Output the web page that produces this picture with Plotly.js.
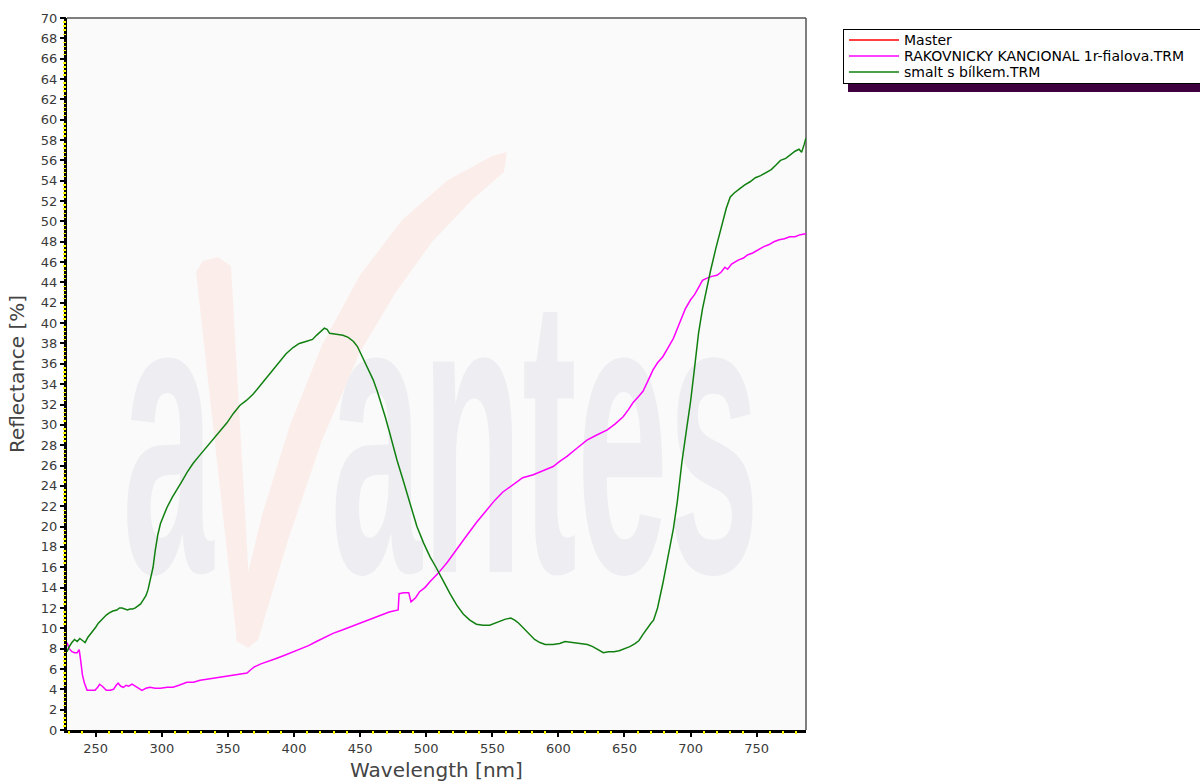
<!DOCTYPE html>
<html>
<head>
<meta charset="utf-8">
<script src="https://cdn.plot.ly/plotly-3.0.1.min.js"></script>
<style>html,body{margin:0;padding:0;background:#fff;}#chart{width:1200px;height:784px;}</style>
</head>
<body>
<div id="chart"></div>
<script>
// ---------------- data ----------------
const seriesNames = ['Master', 'RAKOVNICKY KANCIONAL 1r-fialova.TRM', 'smalt s bílkem.TRM'];

// the Master reference has no visible samples in the chart
const masterWavelength = [null];
const masterReflectance = [null];

const rakWavelength = [228.3,230,232,234,236,237.5,238.5,240,241.5,243.5,246,249.5,251.5,253,255,258,261,263.5,265.5,267,269,271,273,275,277.5,280,283,285,288,291,295,299,304,308.5,313,319,324,329,334,339,344,349,354,359,364.5,367,370,375,380,386,392,398,404.5,411,417,423,429.5,436,442,449,455,461,467,472,478.8,479.5,483,486.8,488.5,492,495,499,503,509,516,523,530,538,546,552,558,565.7,573,581,589,596,601,606.5,614,621.6,629,637,643,649,653,656.5,660,664,668,671.6,675,679,683,687,691,696,700,703,706,709,712,716,720,723,726,728,731,736,740,743,747,751,755,759,763,767,771,775,779,783,787.3];
const rakReflectance = [8.6,8.0,7.7,7.6,7.6,7.9,7.0,5.4,4.6,3.9,3.9,3.9,4.2,4.5,4.3,3.9,3.9,4.0,4.4,4.6,4.3,4.2,4.4,4.3,4.5,4.3,4.1,3.9,4.1,4.2,4.1,4.1,4.2,4.2,4.4,4.7,4.7,4.9,5.0,5.1,5.2,5.3,5.4,5.5,5.6,5.9,6.2,6.5,6.7,7.0,7.3,7.6,7.9,8.3,8.7,9.1,9.5,9.8,10.1,10.4,10.7,11.0,11.3,11.6,11.8,13.4,13.5,13.5,12.6,13.0,13.6,14.0,14.6,15.4,16.5,17.7,19.0,20.4,21.7,22.6,23.4,24.1,24.8,25.1,25.5,25.9,26.4,26.9,27.7,28.5,29.0,29.5,30.1,30.8,31.5,32.2,32.7,33.3,34.4,35.4,36.1,36.7,37.6,38.5,39.8,41.4,42.3,42.8,43.5,44.2,44.4,44.6,44.7,45.0,45.5,45.3,45.8,46.2,46.4,46.7,46.9,47.2,47.5,47.7,48.0,48.2,48.3,48.5,48.5,48.7,48.8];

const smaltWavelength = [228.3,230,232,234,236,238,240,242,244,246,248,250,252,254,256,258,260,263,266,268,270,272,274,276,278,280,282,284,286,288,289.6,291.5,293.4,295,297,299,301,304,308,311.5,315,319,323.6,328,332,336.5,341,345,349.3,354,359,364,369,374,379.6,385,389.4,394,399.3,404,409,414,417,420,423,425,427,432,437,441,445,448,451,454,457,460,463,466,469,472,475,478,482,485.5,489,493,498,503,507,510.5,514,518,523,528,533,538,543,548,552,556,560,564,567,570,573,576,579,582,586,590,596,601,605,610,616,622,626,630,634,638,642,646,650,654,658,661,664,667,670,672,675,679,683,687,690,693.5,697,700,703,706,709,712,715,719,724,727,730,733,737,741,745,749,753,757,761,765,768,772,776,779,782,784,786,787.3];
const smaltReflectance = [7.7,8.2,8.6,8.9,8.7,9.0,8.8,8.6,9.1,9.4,9.8,10.1,10.5,10.8,11.0,11.3,11.5,11.7,11.8,12.0,12.0,11.9,11.8,11.9,11.9,12.0,12.2,12.4,12.8,13.2,13.8,14.8,16.0,17.6,19.2,20.3,21.0,21.9,22.9,23.6,24.4,25.3,26.2,26.9,27.5,28.2,28.9,29.5,30.2,31.1,31.9,32.4,33.0,33.8,34.7,35.6,36.3,37.0,37.6,38.0,38.2,38.4,38.8,39.2,39.5,39.4,39.0,38.9,38.8,38.6,38.2,37.7,36.9,36.0,35.2,34.4,33.3,32.1,30.8,29.4,27.9,26.5,24.8,23.3,21.7,20.0,18.4,17.0,16.1,15.3,14.4,13.4,12.3,11.4,10.8,10.4,10.3,10.3,10.5,10.7,10.9,11.0,10.8,10.5,10.1,9.6,9.2,8.9,8.6,8.4,8.4,8.5,8.7,8.6,8.5,8.4,8.2,7.9,7.6,7.7,7.7,7.8,8.0,8.2,8.5,8.8,9.4,10.0,10.5,10.8,12.0,14.4,17.0,19.8,22.5,26.4,29.6,32.3,35.6,39.0,41.4,43.3,45.1,47.3,49.8,51.3,52.4,52.8,53.2,53.6,53.9,54.3,54.5,54.8,55.1,55.6,56.0,56.2,56.6,56.9,57.1,56.8,57.6,58.2];

const xRange = [228.3, 787.3];
const yRange = [0, 70];
const watermarkParts = ['a', 'antes'];

// ---------------- layout helpers ----------------
const W = 1200, H = 784;
const M = {l: 67, r: 394, t: 18, b: 54};
const PW = W - M.l - M.r, PH = H - M.t - M.b;
const px = x => (x - M.l) / PW;          // pixel -> paper x
const py = y => (M.t + PH - y) / PH;     // pixel -> paper y
const pathFrom = pts => 'M' + pts.map(p => px(p[0]).toFixed(4) + ',' + py(p[1]).toFixed(4)).join('L') + 'Z';

const FONT = '"DejaVu Sans", Verdana, sans-serif';
const wmGray = '#eeeef2';
const wmRed = '#fbeeea';

const LEG = {left: 843, top: 29, rowGap: 16, firstRow: 11, height: 54, width: 362};

const vLeft = [[196,272],[203,261],[218,257],[231,266],[251,618],[246,645],[237,642]];
const vRight = [[236,640],[244,590],[262,515],[290,425],[322,345],[360,275],[402,220],[448,180],[492,156],[507,152],[504,172],[472,200],[432,242],[396,292],[360,352],[322,440],[288,540],[258,640],[248,648]];

const traces = [
  {type:'scatter', mode:'lines', name: seriesNames[0], x: masterWavelength, y: masterReflectance,
   line:{color:'#ff0000', width:1.5}, showlegend: true},
  {type:'scatter', mode:'lines', name: seriesNames[1], x: rakWavelength, y: rakReflectance,
   line:{color:'#ff00ff', width:1.5}},
  {type:'scatter', mode:'lines', name: seriesNames[2], x: smaltWavelength, y: smaltReflectance,
   line:{color:'#118011', width:1.5}}
];

const layout = {
  width: W, height: H,
  margin: {l: M.l, r: M.r, t: M.t, b: M.b, pad: 0},
  paper_bgcolor: '#ffffff',
  plot_bgcolor: '#fafafa',
  font: {family: FONT, color: '#3a3a3a', size: 13},
  showlegend: true,
  legend: {
    xref: 'container', yref: 'container',
    x: LEG.left / W, y: 1 - LEG.top / H, xanchor: 'left', yanchor: 'top',
    bgcolor: '#ffffff', bordercolor: '#000000', borderwidth: 1,
    font: {family: FONT, size: 14, color: '#000000'},
    itemwidth: 50, tracegroupgap: 0
  },
  xaxis: {
    range: xRange, autorange: false,
    tick0: 250, dtick: 50,
    ticks: 'outside', ticklen: 6, tickwidth: 2, tickcolor: '#000000',
    showline: false, showgrid: false, zeroline: false,
    tickfont: {family: FONT, size: 13, color: '#3a3a3a'},
    minor: {tick0: 0, dtick: 10, ticks: 'outside', ticklen: 3, tickwidth: 2, tickcolor: '#ffff00', showgrid: false},
    title: {text: 'Wavelength [nm]', font: {family: FONT, size: 20, color: '#444444'}, standoff: 8}
  },
  yaxis: {
    range: yRange, autorange: false,
    tick0: 0, dtick: 2,
    ticks: 'outside', ticklen: 6, tickwidth: 2, tickcolor: '#000000',
    showline: false, showgrid: false, zeroline: false,
    tickfont: {family: FONT, size: 13, color: '#3a3a3a'},
    minor: {tick0: 0, dtick: 0.4, ticks: 'outside', ticklen: 3, tickwidth: 1.5, tickcolor: '#ffff00', showgrid: false},
    title: {text: 'Reflectance [%]', font: {family: FONT, size: 20, color: '#444444'}, standoff: 10}
  },
  shapes: [
    {type:'path', xref:'paper', yref:'paper', path: pathFrom(vLeft), fillcolor: wmRed, line:{width:0}, layer:'below'},
    {type:'path', xref:'paper', yref:'paper', path: pathFrom(vRight), fillcolor: wmRed, line:{width:0}, layer:'below'},
    {type:'line', xref:'paper', yref:'paper', x0:0, x1:1, y0:1, y1:1, line:{color:'#555555', width:1.5}, layer:'below'},
    {type:'line', xref:'paper', yref:'paper', x0:1, x1:1, y0:0, y1:1, line:{color:'#555555', width:1.5}, layer:'below'},
    {type:'line', xref:'paper', yref:'paper', x0:px(65.5), x1:px(65.5), y0:py(733), y1:1, line:{color:'#000000', width:3}, layer:'below'},
    {type:'line', xref:'paper', yref:'paper', x0:px(64), x1:1, y0:py(731.5), y1:py(731.5), line:{color:'#000000', width:3}, layer:'below'},
    // legend drop shadow
    {type:'rect', xref:'paper', yref:'paper', x0:px(848), x1:px(1200), y0:py(LEG.top + LEG.height + 1), y1:py(LEG.top + LEG.height + 9), fillcolor:'#3f003f', line:{width:0}, layer:'below'}
  ],
  annotations: [
    {text: watermarkParts[0], xref:'paper', yref:'paper', x:0.1, y:0.5, showarrow:false,
     font:{family:'"Liberation Sans", Arial, sans-serif', size:164, color:wmGray, weight:700}},
    {text: watermarkParts[1], xref:'paper', yref:'paper', x:0.5, y:0.5, showarrow:false,
     font:{family:'"Liberation Sans", Arial, sans-serif', size:164, color:wmGray, weight:700}}
  ]
};

const gd = document.getElementById('chart');
Plotly.newPlot(gd, traces, layout, {displayModeBar:false, staticPlot:true}).then(() => {
  const svgns = 'http://www.w3.org/2000/svg';
  // --- watermark: put under the traces and stretch vertically like the logo
  const below = gd.querySelector('.layer-below');
  if (below) {
    const g = document.createElementNS(svgns, 'g');
    g.setAttribute('class', 'watermark');
    below.appendChild(g);
    const place = [{cx: 168, base: 572}, {cx: 545, base: 572}];
    const sy = 2.43;
    gd.querySelectorAll('.annotation').forEach((ann, i) => {
      const t = ann.querySelector('text.annotation-text');
      if (!t || !place[i]) return;
      t.removeAttribute('x'); t.removeAttribute('y');
      t.querySelectorAll('tspan').forEach(ts => { ts.removeAttribute('x'); ts.removeAttribute('y'); ts.removeAttribute('dy'); });
      t.setAttribute('text-anchor', 'middle');
      t.style.textAnchor = 'middle';
      t.setAttribute('transform', 'translate(' + place[i].cx + ',' + place[i].base + ') scale(1,' + sy + ')');
      g.appendChild(t);
      ann.remove();
    });
  }
  // --- legend: compact row spacing like the original
  const leg = gd.querySelector('.legend');
  if (leg) {
    const bg = leg.querySelector('rect.bg');
    if (bg) { bg.setAttribute('height', LEG.height); bg.setAttribute('width', LEG.width); }
    const items = leg.querySelectorAll('.traces');
    items.forEach((it, i) => {
      const tr = it.getAttribute('transform') || '';
      const m = tr.match(/translate\(\s*([-\d.]+)[ ,]+([-\d.]+)/);
      const x = m ? parseFloat(m[1]) : 1;
      it.setAttribute('transform', 'translate(' + x + ',' + (LEG.firstRow + i * LEG.rowGap) + ')');
    });
    const clip = gd.querySelector('[id^="legend"] rect, clipPath[id*="legend"] rect');
    if (clip) { clip.setAttribute('height', LEG.height); clip.setAttribute('width', LEG.width); }
  }
});
</script>
</body>
</html>
